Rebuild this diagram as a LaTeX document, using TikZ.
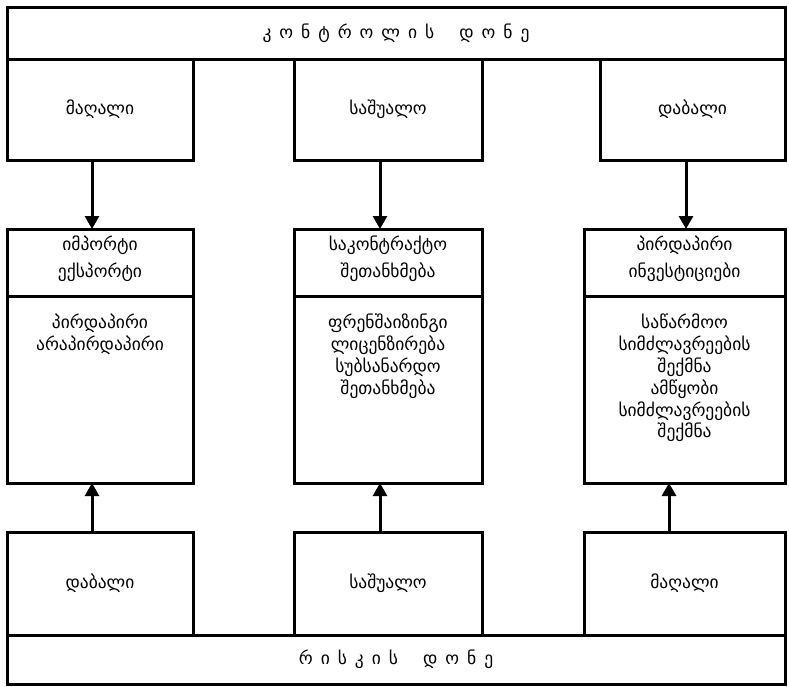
\documentclass[tikz,border=0pt]{standalone}
\usepackage{fontspec}
\setmainfont{DejaVu Sans}
\usetikzlibrary{arrows.meta}
\begin{document}
\begin{tikzpicture}[x=1pt,y=-1pt,
  box/.style={draw=black,line width=3pt,rectangle,inner sep=0pt,outer sep=0pt},
  lbl/.style={font=\fontsize{17.5}{21}\selectfont},
  body/.style={font=\fontsize{17.5}{21.8}\selectfont,align=center,inner sep=0pt,anchor=north},
  head/.style={font=\fontsize{17.5}{27}\selectfont,align=center},
  band/.style={font=\fontsize{17.5}{21}\selectfont},
  arr/.style={line width=3pt,-{Triangle[length=13pt,width=14pt]}}]
\useasboundingbox (0,0) rectangle (789,686);
\fill[white] (0,0) rectangle (789,686);

% control level band and its three boxes
\node[box,minimum width=778pt,minimum height=52pt,band] (ctrl) at (396,33)
  {{\spaceskip=8pt კ ო ნ ტ რ ო ლ ი ს\hspace{25pt}დ ო ნ ე}};
\node[box,minimum width=186pt,minimum height=101pt,lbl] (topL) at (100,109.5) {მაღალი};
\node[box,minimum width=188pt,minimum height=101pt,lbl] (topM) at (388,109.5) {საშუალო};
\node[box,minimum width=185pt,minimum height=101pt,lbl] (topR) at (692.5,109.5) {დაბალი};

% middle columns: header and body
\node[box,minimum width=186pt,minimum height=67pt] (hdL) at (100,262.5) {};
\node[box,minimum width=188pt,minimum height=67pt] (hdM) at (388,262.5) {};
\node[box,minimum width=201pt,minimum height=67pt] (hdR) at (684.5,262.5) {};
\node[head] at ([yshift=4pt]hdL.center) {იმპორტი\\ექსპორტი};
\node[head] at ([yshift=4pt]hdM.center) {საკონტრაქტო\\შეთანხმება};
\node[head] at ([yshift=4pt]hdR.center) {პირდაპირი\\ინვესტიციები};

\node[box,minimum width=186pt,minimum height=187pt] (bdL) at (100,389.5) {};
\node[box,minimum width=188pt,minimum height=187pt] (bdM) at (388,389.5) {};
\node[box,minimum width=201pt,minimum height=187pt] (bdR) at (684.5,389.5) {};
\node[body] (tL) at ([yshift=-18pt]bdL.north) {პირდაპირი\\არაპირდაპირი};
\node[body] (tM) at ([yshift=-18pt]bdM.north) {ფრენშაიზინგი\\ლიცენზირება\\სუბსანარდო\\შეთანხმება};
\node[body] (tR) at ([yshift=-18pt]bdR.north) {საწარმოო\\სიმძლავრეების\\შექმნა\\ამწყობი\\სიმძლავრეების\\შექმნა};

% risk level band and its three boxes
\node[box,minimum width=186pt,minimum height=103pt,lbl] (botL) at (100,583.5) {დაბალი};
\node[box,minimum width=188pt,minimum height=103pt,lbl] (botM) at (388,583.5) {საშუალო};
\node[box,minimum width=201pt,minimum height=103pt,lbl] (botR) at (684.5,583.5) {მაღალი};
\node[box,minimum width=778pt,minimum height=49pt,band] (risk) at (396,659.5)
  {{\spaceskip=8pt რ ი ს კ ი ს\hspace{25pt}დ ო ნ ე}};

% arrows from the level boxes into the columns
\draw[arr] ([xshift=-8pt]topL.south) -- ([xshift=-8pt]topL.south |- hdL.north);
\draw[arr] ([xshift=-8pt]topM.south) -- ([xshift=-8pt]topM.south |- hdM.north);
\draw[arr] ([xshift=-6.5pt]topR.south) -- ([xshift=-6.5pt]topR.south |- hdR.north);
\draw[arr] ([xshift=-8pt]botL.north) -- ([xshift=-8pt]botL.north |- bdL.south);
\draw[arr] ([xshift=-8pt]botM.north) -- ([xshift=-8pt]botM.north |- bdM.south);
\draw[arr] ([xshift=-15.5pt]botR.north) -- ([xshift=-15.5pt]botR.north |- bdR.south);
\end{tikzpicture}
\end{document}
